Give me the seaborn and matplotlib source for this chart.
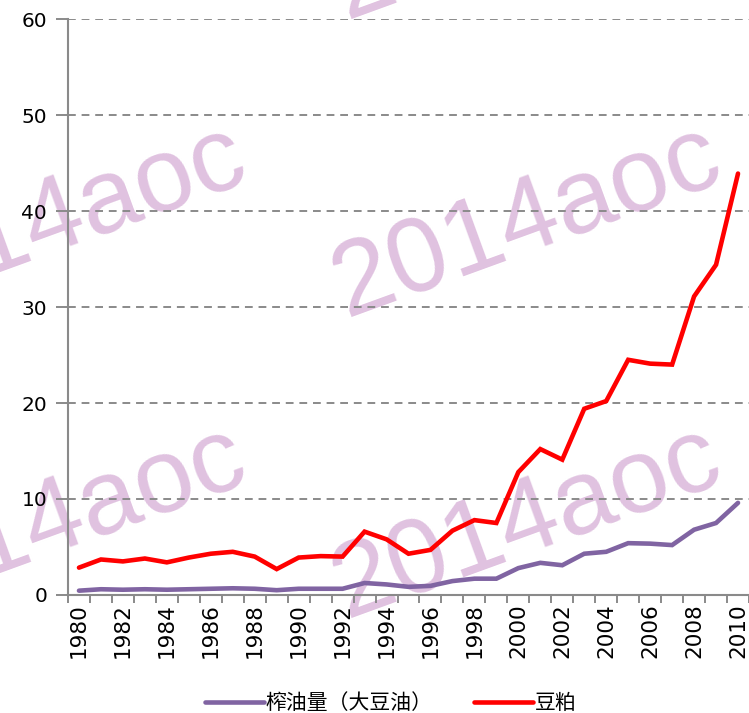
import matplotlib
matplotlib.use("Agg")
import matplotlib.pyplot as plt
import seaborn as sns
import pandas as pd
import numpy as np
from matplotlib.lines import Line2D

years = list(range(1980, 2011))
oil = [0.45, 0.6, 0.55, 0.6, 0.55, 0.6, 0.65, 0.7, 0.65, 0.5, 0.65, 0.65, 0.65,
       1.25, 1.1, 0.85, 0.95, 1.45, 1.7, 1.7, 2.8, 3.35, 3.1, 4.3, 4.5, 5.4, 5.35,
       5.2, 6.8, 7.5, 9.6]
meal = [2.85, 3.7, 3.5, 3.8, 3.4, 3.9, 4.3, 4.5, 4.0, 2.7, 3.9, 4.05, 4.0,
        6.6, 5.8, 4.3, 4.7, 6.7, 7.8, 7.5, 12.8, 15.2, 14.1, 19.4, 20.2, 24.5,
        24.1, 24.0, 31.1, 34.4, 43.9]
series_names = ["榨油量（大豆油）", "豆粕"]
y_ticks = [0, 10, 20, 30, 40, 50, 60]
watermark = "2014aoc"

df = pd.DataFrame({
    "idx": list(range(len(years))) * 2,
    "value": oil + meal,
    "series": [series_names[0]] * len(years) + [series_names[1]] * len(years),
})

sns.set_theme(style="white")
plt.rcParams['font.family'] = ['DejaVu Sans', 'Noto Sans CJK SC']

fig = plt.figure(figsize=(7.49, 7.13), dpi=100)
ax = fig.add_axes([68/749, (713-595)/713, (749-68)/749, (595-19)/713])
ax.set_facecolor('none')

palette = {series_names[0]: "#8064A2", series_names[1]: "#FF0000"}
sns.lineplot(data=df, x="idx", y="value", hue="series", palette=palette,
             ax=ax, linewidth=3.3, legend=False, zorder=5)
for l in ax.lines:
    l.set_solid_capstyle('round')
    l.set_solid_joinstyle('miter')

ax.set_xlim(-0.5, len(years) - 0.5)
ax.set_ylim(0, 60)
ax.set_yticks(y_ticks)
ax.set_yticklabels([str(v) for v in y_ticks], fontsize=14.5, color="black")
ax.yaxis.grid(True, linestyle=(0, (4, 3)), color="#8A8A8A", linewidth=1.4, zorder=1)
ax.set_axisbelow(True)

ax.set_xticks(np.arange(-0.5, len(years), 1.0))
ax.set_xticklabels([])
ax.set_xticks(np.arange(0, len(years), 2), minor=True)
ax.set_xticklabels([str(y) for y in years[::2]], minor=True, rotation=90,
                   fontsize=15.5, color="black")
ax.tick_params(axis='x', which='major', direction='out', length=6, width=1.4,
               color="#8A8A8A", bottom=True)
ax.tick_params(axis='x', which='minor', length=0, pad=6, bottom=True)
ax.tick_params(axis='y', direction='out', length=9, width=1.4, color="#8A8A8A",
               left=True, pad=6)
ax.set_xlabel("")
ax.set_ylabel("")

for s in ["top", "right"]:
    ax.spines[s].set_visible(False)
for s in ["left", "bottom"]:
    ax.spines[s].set_color("#8A8A8A")
    ax.spines[s].set_linewidth(1.5)

# watermarks (behind the axes content)
wm_pos = [(52, 222), (527, 222), (52, 523), (527, 523), (527, -76)]
for (px, py) in wm_pos:
    fig.text(px/749, 1 - py/713, watermark, fontsize=76, color="#E0C2E0",
             rotation=20, ha="center", va="center", family="Liberation Sans",
             zorder=-1, rotation_mode="anchor")

handles = [Line2D([0], [0], color=palette[n], linewidth=3.3, solid_capstyle='round')
           for n in series_names]
fig.legend(handles, series_names, loc="center", bbox_to_anchor=(391/749, 1 - 703/713),
           ncol=2, frameon=False, handlelength=2.8,
           columnspacing=2.0, handletextpad=0.1, labelcolor="black",
           prop={'family': ['Noto Sans CJK SC', 'DejaVu Sans'], 'size': 15})

fig.savefig("out.png", dpi=100)
